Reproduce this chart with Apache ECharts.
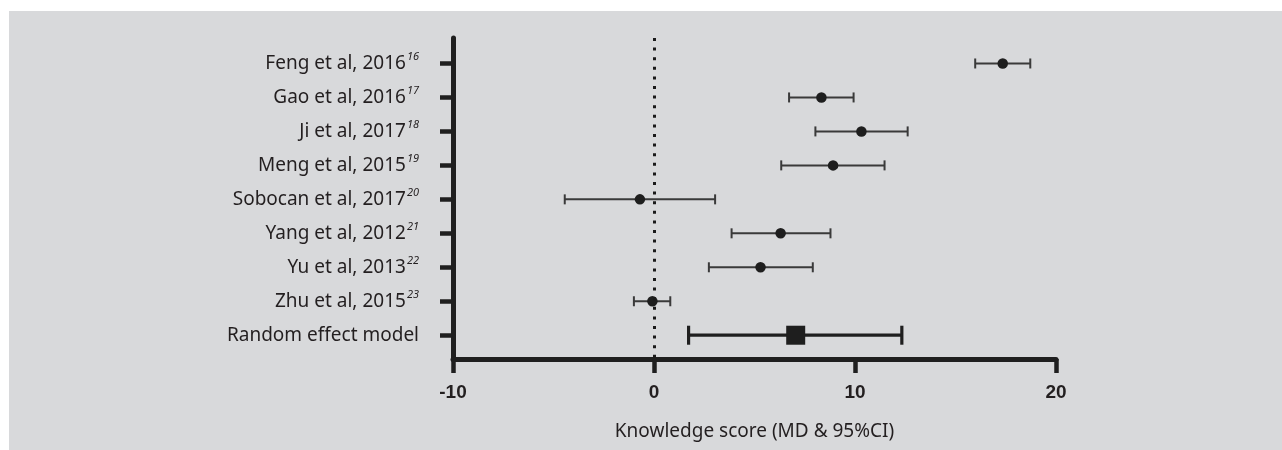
<!DOCTYPE html>
<html>
<head>
<meta charset="utf-8">
<script src="https://cdn.jsdelivr.net/npm/echarts@6/dist/echarts.min.js"></script>
<style>
  html, body { margin: 0; padding: 0; background: #ffffff; }
  #wrap { position: relative; width: 1282px; height: 450px; overflow: hidden; }
  #bg { position: absolute; left: 9px; top: 11px; right: 0; bottom: 0; background: #d8d9db; }
  #chart { position: absolute; left: 0; top: 0; width: 1282px; height: 450px; }
</style>
</head>
<body>
<div id="wrap"><div id="bg"></div><div id="chart"></div></div>
<script>
// ---- data ----
const studies = ['Feng et al, 2016', 'Gao et al, 2016', 'Ji et al, 2017', 'Meng et al, 2015',
  'Sobocan et al, 2017', 'Yang et al, 2012', 'Yu et al, 2013', 'Zhu et al, 2015', 'Random effect model'];
const refs = ['16', '17', '18', '19', '20', '21', '22', '23', ''];
const md    = [17.35, 8.33, 10.32, 8.91, -0.70, 6.30, 5.30, -0.08, 7.05];
const lower = [15.98, 6.72, 8.03, 6.33, -4.44, 3.86, 2.73, -1.00, 1.72];
const upper = [18.72, 9.93, 12.62, 11.47, 3.04, 8.78, 7.90, 0.81, 12.33];
const pooledIndex = 8;
const xTickValues = [-10, 0, 10, 20];
const axisTitle = 'Knowledge score (MD & 95%CI)';

// ---- build ----
const rows = studies.map((s, i) => i + 1);
const ciData = studies.map((s, i) => [rows[i], lower[i], upper[i], i === pooledIndex ? 1 : 0]);
const studyPts = [];
studies.forEach((s, i) => { if (i !== pooledIndex) studyPts.push([md[i], rows[i]]); });
const pooledPts = [[md[pooledIndex], rows[pooledIndex]]];

const textColor = '#231f20';
const labelFont = "'Noto Sans', 'Open Sans', sans-serif";

const chart = echarts.init(document.getElementById('chart'));
chart.setOption({
  backgroundColor: 'transparent',
  animation: false,
  grid: { left: 453, right: 226, top: 38, bottom: 91 },
  xAxis: {
    type: 'value',
    min: -10, max: 20, interval: 10,
    position: 'bottom',
    axisLine: { show: true, onZero: false, lineStyle: { color: '#1f1f1f', width: 5 } },
    axisTick: { show: true, length: 14, lineStyle: { color: '#1f1f1f', width: 4.5 } },
    axisLabel: {
      margin: 24,
      color: '#231f20',
      fontFamily: "'Liberation Sans', Arial, sans-serif",
      fontWeight: 'bold',
      fontSize: 19,
      customValues: xTickValues,
      formatter: v => String(v)
    },
    splitLine: { show: false },
    name: axisTitle,
    nameLocation: 'middle',
    nameGap: 63,
    nameTextStyle: { color: textColor, fontFamily: labelFont, fontSize: 19 }
  },
  yAxis: {
    type: 'value',
    inverse: true,
    min: 0.25, max: 9.7,
    position: 'left',
    axisLine: { show: true, onZero: false, lineStyle: { color: '#1f1f1f', width: 5 } },
    axisTick: { show: true, length: 13, customValues: rows, lineStyle: { color: '#1f1f1f', width: 4.5 } },
    axisLabel: {
      margin: 34,
      customValues: rows,
      formatter: v => {
        const i = Math.round(v) - 1;
        if (i < 0 || i >= studies.length) return '';
        return refs[i] ? '{n|' + studies[i] + '}{s|' + refs[i] + '}' : '{n|' + studies[i] + '}';
      },
      rich: {
        n: { fontFamily: labelFont, fontSize: 19, color: textColor, lineHeight: 24 },
        s: { fontFamily: labelFont, fontSize: 11, fontStyle: 'italic', color: textColor, lineHeight: 11, verticalAlign: 'top', padding: [0, 0, 0, 1] }
      }
    },
    splitLine: { show: false }
  },
  series: [
    {
      type: 'line',
      data: [],
      z: 1,
      silent: true,
      markLine: {
        silent: true,
        symbol: ['none', 'none'],
        label: { show: false },
        lineStyle: { type: [3, 6.6], width: 3, color: '#1a1a1a', cap: 'butt' },
        data: [{ xAxis: 0 }]
      }
    },
    {
      type: 'custom',
      z: 3,
      silent: true,
      encode: { x: [1, 2], y: 0 },
      renderItem: function (params, api) {
        const y = api.value(0);
        const p1 = api.coord([api.value(1), y]);
        const p2 = api.coord([api.value(2), y]);
        const pooled = api.value(3) === 1;
        const h = pooled ? 9.5 : 5;
        const style = { stroke: pooled ? '#1f1f1f' : '#3a3a3a', lineWidth: pooled ? 3.2 : 2 };
        return {
          type: 'group',
          children: [
            { type: 'line', shape: { x1: p1[0], y1: p1[1], x2: p2[0], y2: p2[1] }, style: style },
            { type: 'line', shape: { x1: p1[0], y1: p1[1] - h, x2: p1[0], y2: p1[1] + h }, style: style },
            { type: 'line', shape: { x1: p2[0], y1: p2[1] - h, x2: p2[0], y2: p2[1] + h }, style: style }
          ]
        };
      },
      data: ciData
    },
    {
      type: 'scatter',
      z: 4,
      symbol: 'circle',
      symbolSize: 10.5,
      itemStyle: { color: '#1e1e1e', opacity: 1 },
      data: studyPts
    },
    {
      type: 'scatter',
      z: 4,
      symbol: 'rect',
      symbolSize: 19,
      itemStyle: { color: '#1e1e1e', opacity: 1 },
      data: pooledPts
    }
  ]
});
</script>
</body>
</html>
